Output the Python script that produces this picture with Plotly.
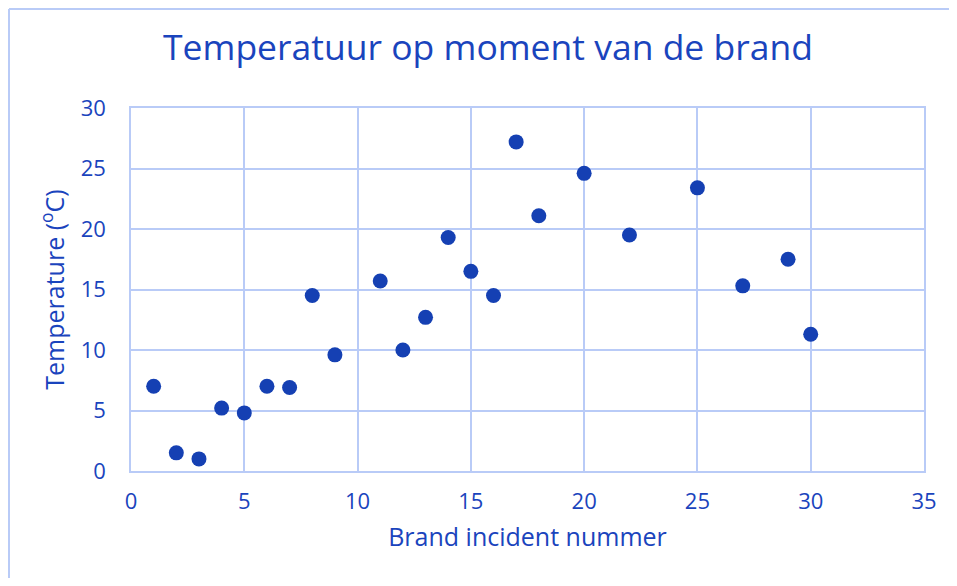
import plotly.graph_objects as go

# Brand incidenten en temperatuur
incident = [1, 2, 3, 4, 5, 6, 7, 8, 9, 11, 12, 13, 14, 15, 16, 17, 18, 20, 22, 25, 27, 29, 30]
temperatuur = [7.0, 1.5, 1.0, 5.2, 4.8, 7.0, 6.9, 14.5, 9.6, 15.7, 10.0, 12.7, 19.3, 16.5, 14.5,
               27.2, 21.1, 24.6, 19.5, 23.4, 15.3, 17.5, 11.3]

blauw = "#1a44bd"
punt = "#1540b3"
raster = "#b9cbf7"
lettertype = "Open Sans"

fig = go.Figure(go.Scatter(
    x=incident, y=temperatuur, mode="markers",
    marker=dict(size=15, color=punt),
))

# de pagina heeft 8px marge, dus figuur kleiner (geen schuifbalken)
W, H = 941, 570
ml, mr, mt, mb = 123, 25, 100, 107
pw, ph = W - ml - mr, H - mt - mb

# kader: alleen boven- en linkerrand zijn zichtbaar
links = (1 - ml) / pw
boven = (ph + mt - 1) / ph
fig.add_shape(type="line", xref="paper", yref="paper",
              x0=links, x1=(W - ml) / pw, y0=boven, y1=boven,
              line=dict(color=raster, width=2), layer="below")
fig.add_shape(type="line", xref="paper", yref="paper",
              x0=links, x1=links, y0=boven, y1=-(mb + 5) / ph,
              line=dict(color=raster, width=2), layer="below")

fig.update_layout(
    width=W, height=H,
    margin=dict(l=ml, r=mr, t=mt, b=mb),
    paper_bgcolor="white", plot_bgcolor="white",
    showlegend=False,
    font=dict(family=lettertype, color=blauw),
    title=dict(text="Temperatuur op moment van de brand", x=480 / W, xanchor="center",
               y=1 - 40 / H, yanchor="middle", font=dict(size=35.5, color=blauw)),
    xaxis=dict(range=[0, 35], dtick=5, showgrid=True, gridcolor=raster, gridwidth=1.5,
               showline=True, linecolor=raster, linewidth=1.5, mirror=True, zeroline=False,
               tickfont=dict(size=22), ticks="outside", ticklen=10, tickcolor="rgba(0,0,0,0)",
               title=dict(text="Brand incident nummer", font=dict(size=25), standoff=14)),
    yaxis=dict(range=[0, 30], dtick=5, showgrid=True, gridcolor=raster, gridwidth=1.5,
               showline=True, linecolor=raster, linewidth=1.5, mirror=True, zeroline=False,
               tickfont=dict(size=22), ticks="outside", ticklen=19, tickcolor="rgba(0,0,0,0)",
               title=dict(text="Temperature (<sup>o</sup>C)", font=dict(size=25), standoff=9)),
)

fig.write_html("out.html")
